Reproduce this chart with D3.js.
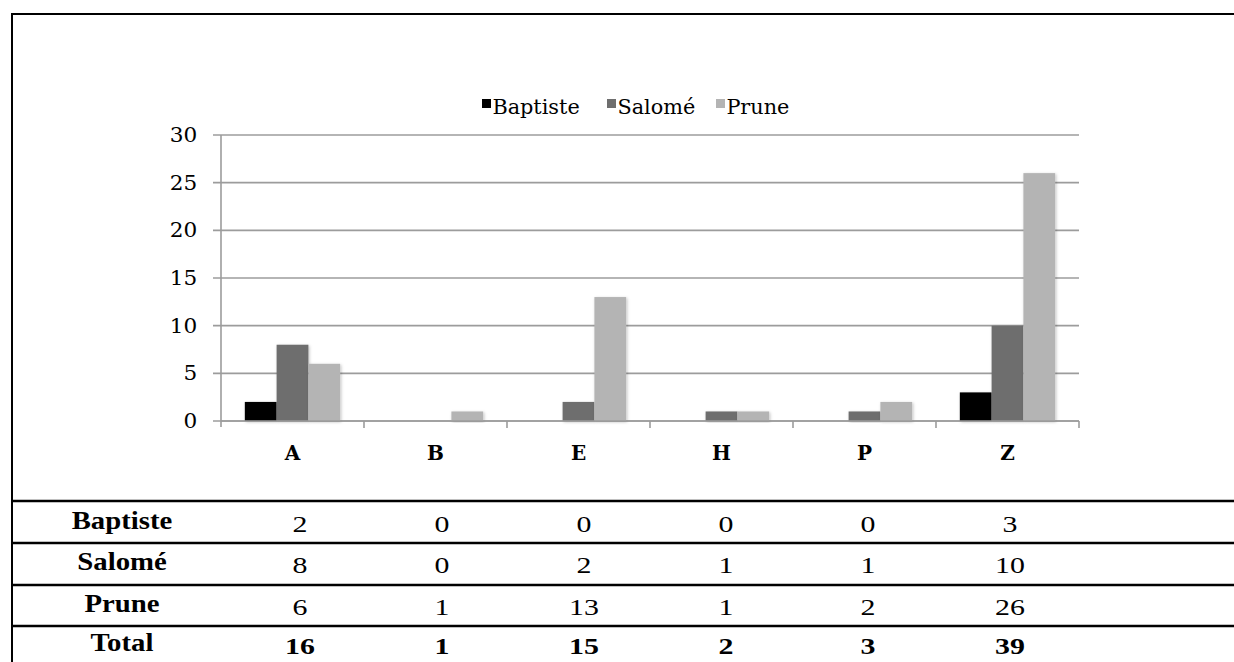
<!DOCTYPE html>
<html>
<head>
<meta charset="utf-8">
<script src="https://cdn.jsdelivr.net/npm/d3@7"></script>
<style>
  body { margin: 0; background: #fff; }
  svg { display: block; }
</style>
</head>
<body>
<script>
const categories = ['A', 'B', 'E', 'H', 'P', 'Z']
const seriesNames = ['Baptiste', 'Salomé', 'Prune']
const baptiste = [2, 0, 0, 0, 0, 3]
const salome = [8, 0, 2, 1, 1, 10]
const prune = [6, 1, 13, 1, 2, 26]
const yTicks = [0, 5, 10, 15, 20, 25, 30]

const w = 1234, h = 662
const colors = ['#000000', '#6e6e6e', '#b4b4b4']
const series = [baptiste, salome, prune]

const svg = d3.select('body').append('svg')
    .attr('width', w)
    .attr('height', h)

const defs = svg.append('defs')
const shadow = defs.append('filter').attr('id', 'shadow')
    .attr('x', '-20%').attr('y', '-20%').attr('width', '140%').attr('height', '140%')
shadow.append('feDropShadow')
    .attr('dx', 1).attr('dy', 1).attr('stdDeviation', 1.5)
    .attr('flood-color', '#000').attr('flood-opacity', 0.25)

// outer frame
svg.append('line').attr('x1', 12).attr('x2', w).attr('y1', 14).attr('y2', 14)
    .attr('stroke', '#000').attr('stroke-width', 2)
svg.append('line').attr('x1', 12).attr('x2', 12).attr('y1', 13).attr('y2', h)
    .attr('stroke', '#000').attr('stroke-width', 2)

const chartFont = 'DejaVu Serif'

const x = d3.scaleBand()
    .domain(categories)
    .range([221, 1079])

const x1 = d3.scaleBand()
    .domain(seriesNames)
    .range([0, x.bandwidth()])
    .paddingOuter(0.75)

const y = d3.scaleLinear()
    .domain([0, 30])
    .range([421, 135])

// gridlines
svg.append('g')
    .selectAll('line')
    .data(yTicks)
    .join('line')
    .attr('x1', 213)
    .attr('x2', 1079)
    .attr('y1', d => y(d))
    .attr('y2', d => y(d))
    .attr('stroke', '#9c9c9c')
    .attr('stroke-width', 1.6)

// y axis
const yAxis = svg.append('g')
    .attr('transform', 'translate(221,0)')
    .call(d3.axisLeft(y).tickValues(yTicks).tickSize(0).tickPadding(22))
yAxis.attr('font-family', chartFont).attr('font-size', 20)
yAxis.select('.domain').attr('stroke', '#9c9c9c').attr('stroke-width', 1.6)
    .attr('d', `M0,${y(30)}V${y(0) + 6}`)
yAxis.selectAll('text')
    .attr('fill', '#000')
    .attr('transform', 'scale(1.08,1)')

// bars
const groups = svg.append('g')
    .selectAll('g')
    .data(categories)
    .join('g')
    .attr('transform', d => `translate(${x(d)},0)`)

groups.selectAll('rect')
    .data((d, i) => seriesNames.map((s, j) => ({ s: s, v: series[j][i], j: j })))
    .join('rect')
    .attr('x', d => x1(d.s))
    .attr('width', x1.bandwidth())
    .attr('y', d => y(d.v))
    .attr('height', d => y(0) - y(d.v))
    .attr('fill', d => colors[d.j])
    .attr('filter', 'url(#shadow)')

// x axis
const xAxis = svg.append('g')
    .attr('transform', `translate(0,${y(0)})`)
    .call(d3.axisBottom(x).tickSize(0).tickPadding(25))
xAxis.attr('font-family', chartFont).attr('font-size', 20).attr('font-weight', 'bold')
xAxis.select('.domain').attr('stroke', '#9c9c9c').attr('stroke-width', 1.6)
    .attr('d', `M221,0H1079`)
xAxis.selectAll('text').attr('fill', '#000')
svg.append('g')
    .selectAll('line')
    .data(categories.map((c, i) => i + 1))
    .join('line')
    .attr('x1', i => 221 + i * x.step())
    .attr('x2', i => 221 + i * x.step())
    .attr('y1', y(0))
    .attr('y2', y(0) + 7)
    .attr('stroke', '#9c9c9c')
    .attr('stroke-width', 1.6)

// legend
const legendX = [482, 607, 716]
const legend = svg.append('g')
    .attr('font-family', chartFont)
    .attr('font-size', 20)
    .selectAll('g')
    .data(seriesNames)
    .join('g')
    .attr('transform', (d, i) => `translate(${legendX[i]},107)`)
legend.append('rect')
    .attr('x', 0).attr('y', -8)
    .attr('width', 9).attr('height', 9)
    .attr('fill', (d, i) => colors[i])
legend.append('text')
    .attr('x', 10)
    .attr('y', 0)
    .attr('dy', '0.35em')
    .attr('transform', 'scale(1.04,1)')
    .text(d => d)

// table
const tableFont = 'Liberation Serif, Times New Roman, Tinos, serif'
const rowLines = [501, 543, 585, 626]
svg.append('g')
    .selectAll('line')
    .data(rowLines)
    .join('line')
    .attr('x1', 12).attr('x2', w)
    .attr('y1', d => d).attr('y2', d => d)
    .attr('stroke', '#000').attr('stroke-width', 2.5)

const totals = categories.map((c, i) => d3.sum(series, s => s[i]))
const rows = [
    { name: 'Baptiste', vals: baptiste, bold: false },
    { name: 'Salomé', vals: salome, bold: false },
    { name: 'Prune', vals: prune, bold: false },
    { name: 'Total', vals: totals, bold: true }
]
const rowY = [529, 570, 612, 651]
const colX = d3.scalePoint().domain(categories).range([300, 1010])

rows.forEach((r, ri) => {
    const g = svg.append('g').attr('font-family', tableFont)
    g.append('text')
        .attr('transform', `translate(122,${rowY[ri]}) scale(1.15,1)`)
        .attr('text-anchor', 'middle')
        .attr('font-size', 25)
        .attr('font-weight', 'bold')
        .text(r.name)
    g.selectAll('text.v')
        .data(r.vals)
        .join('text')
        .attr('class', 'v')
        .attr('transform', (d, i) => `translate(${colX(categories[i])},${rowY[ri] + 3}) scale(1.3,1)`)
        .attr('text-anchor', 'middle')
        .attr('font-size', 23)
        .attr('font-weight', r.bold ? 'bold' : 'normal')
        .text(d => d)
})
</script>
</body>
</html>
